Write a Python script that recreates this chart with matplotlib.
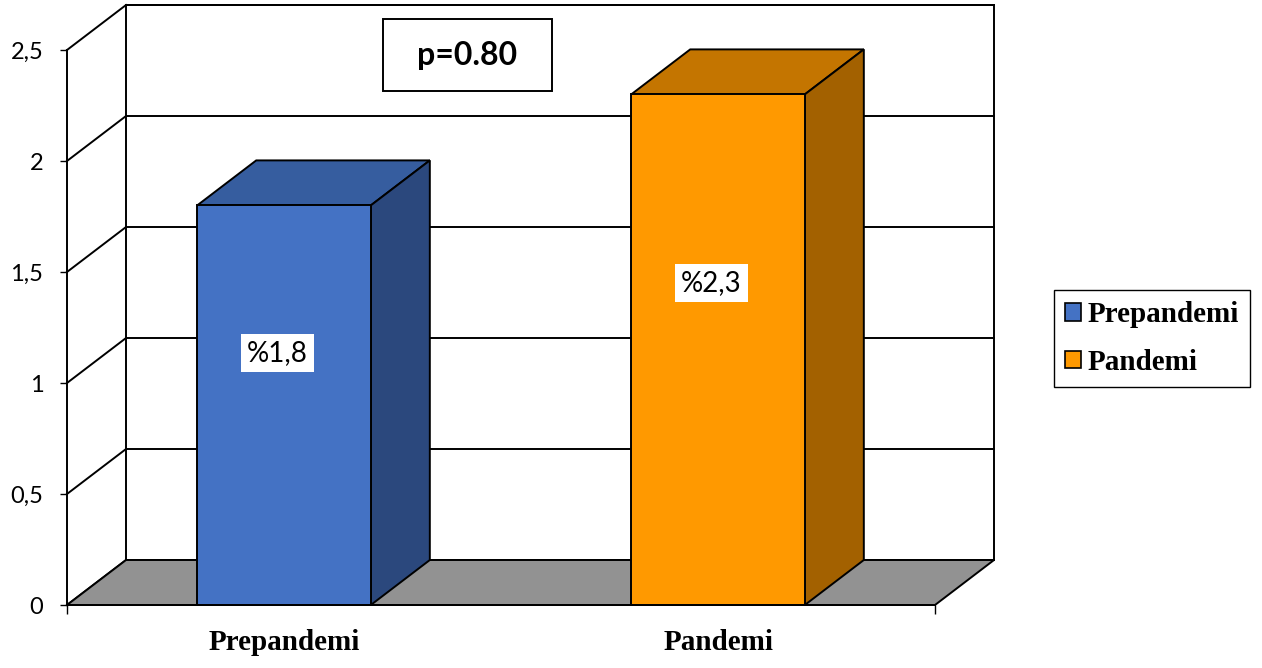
import matplotlib
matplotlib.use("Agg")
import matplotlib.pyplot as plt
from matplotlib.patches import Polygon, Patch, Rectangle
import numpy as np

# data
categories = ["Prepandemi", "Pandemi"]
values = [1.8, 2.3]
bar_texts = ["%1,8", "%2,3"]
y_ticks = [0, 0.5, 1, 1.5, 2, 2.5]
y_tick_labels = ["0", "0,5", "1", "1,5", "2", "2,5"]
p_text = "p=0.80"

# colours (front, top, side)
front_cols = ["#4472C4", "#FF9900"]
top_cols = ["#365D9F", "#C47500"]
side_cols = ["#2B487D", "#A36100"]
floor_col = "#929292"

# fake 3d depth, in data units
DX = 0.136
DY = 0.2027
BAR_W = 0.40
LW = 1.4

fig = plt.figure(figsize=(12.62, 6.68), dpi=100)
ax = fig.add_axes([67 / 1262, 63 / 668, 868 / 1262, 555 / 668])
ax.set_xlim(-0.5, 1.5)
ax.set_ylim(0, 2.5)
ax.patch.set_visible(False)

x0, x1 = ax.get_xlim()
ytop = ax.get_ylim()[1]

# back wall
wall = Polygon([(x0 + DX, DY), (x1 + DX, DY), (x1 + DX, ytop + DY), (x0 + DX, ytop + DY)],
               closed=True, facecolor="white", edgecolor="black", lw=LW, zorder=1, clip_on=False)
ax.add_patch(wall)
for t in y_ticks:
    # gridline on back wall + diagonal on side wall
    ax.plot([x0 + DX, x1 + DX], [t + DY, t + DY], color="black", lw=LW, zorder=2, clip_on=False)
    ax.plot([x0, x0 + DX], [t, t + DY], color="black", lw=LW, zorder=2, clip_on=False)

# floor
floor = Polygon([(x0, 0), (x1, 0), (x1 + DX, DY), (x0 + DX, DY)],
                closed=True, facecolor=floor_col, edgecolor="black", lw=LW, zorder=3, clip_on=False)
ax.add_patch(floor)

# bars
xpos = np.arange(len(categories))
bars = ax.bar(xpos, values, width=BAR_W, color=front_cols, edgecolor="black", lw=LW, zorder=5)
for b, tc, sc in zip(bars, top_cols, side_cols):
    l, r, h = b.get_x(), b.get_x() + b.get_width(), b.get_height()
    top = Polygon([(l, h), (r, h), (r + DX, h + DY), (l + DX, h + DY)], closed=True,
                  facecolor=tc, edgecolor="black", lw=LW, zorder=4, clip_on=False)
    side = Polygon([(r, 0), (r + DX, DY), (r + DX, h + DY), (r, h)], closed=True,
                   facecolor=sc, edgecolor="black", lw=LW, zorder=4, clip_on=False)
    ax.add_patch(top)
    ax.add_patch(side)

# value labels inside bars
for x, v, s in zip(xpos, values, bar_texts):
    ax.text(x - 0.015, v * 0.63, s, ha="center", va="center", fontsize=20, family="Lato",
            zorder=7, bbox=dict(boxstyle="square,pad=0.22", facecolor="white", edgecolor="none"))

# p value box
ax.add_patch(Rectangle((0.228, 2.315), 0.39, 0.325, facecolor="white", edgecolor="black",
                       lw=LW, zorder=6, clip_on=False))
ax.text(0.4225, 2.477, p_text, ha="center", va="center", fontsize=23, family="Lato",
        fontweight="bold", zorder=7, clip_on=False)

# axes: front y axis + bottom axis
for s in ["top", "right"]:
    ax.spines[s].set_visible(False)
ax.spines["left"].set_linewidth(LW)
ax.spines["bottom"].set_linewidth(LW)
ax.spines["left"].set_zorder(6)
ax.spines["bottom"].set_zorder(6)
ax.set_yticks(y_ticks)
ax.set_yticklabels(y_tick_labels, fontsize=17, family="Lato")
ax.tick_params(axis="y", direction="out", length=5, width=1, pad=12)
ax.set_xticks(xpos)
ax.set_xticklabels(categories, fontsize=21, family="Liberation Serif", fontweight="bold")
ax.set_xticks([x0, x1], minor=True)
ax.tick_params(axis="x", which="major", length=0, pad=17)
ax.tick_params(axis="x", which="minor", direction="out", length=6.5, width=1)

# legend
handles = [Patch(facecolor=c, edgecolor="black", lw=1.2) for c in front_cols]
leg = fig.legend(handles, categories, loc="center", bbox_to_anchor=(0.9128, 0.4933),
                 prop={"family": "Liberation Serif", "weight": "bold", "size": 21},
                 frameon=True, fancybox=False, edgecolor="black", framealpha=1,
                 handlelength=0.55, handleheight=0.55, handletextpad=0.2,
                 labelspacing=0.7, borderpad=0.4, borderaxespad=0)
leg.get_frame().set_linewidth(1.0)

fig.savefig("out.png", dpi=100)
